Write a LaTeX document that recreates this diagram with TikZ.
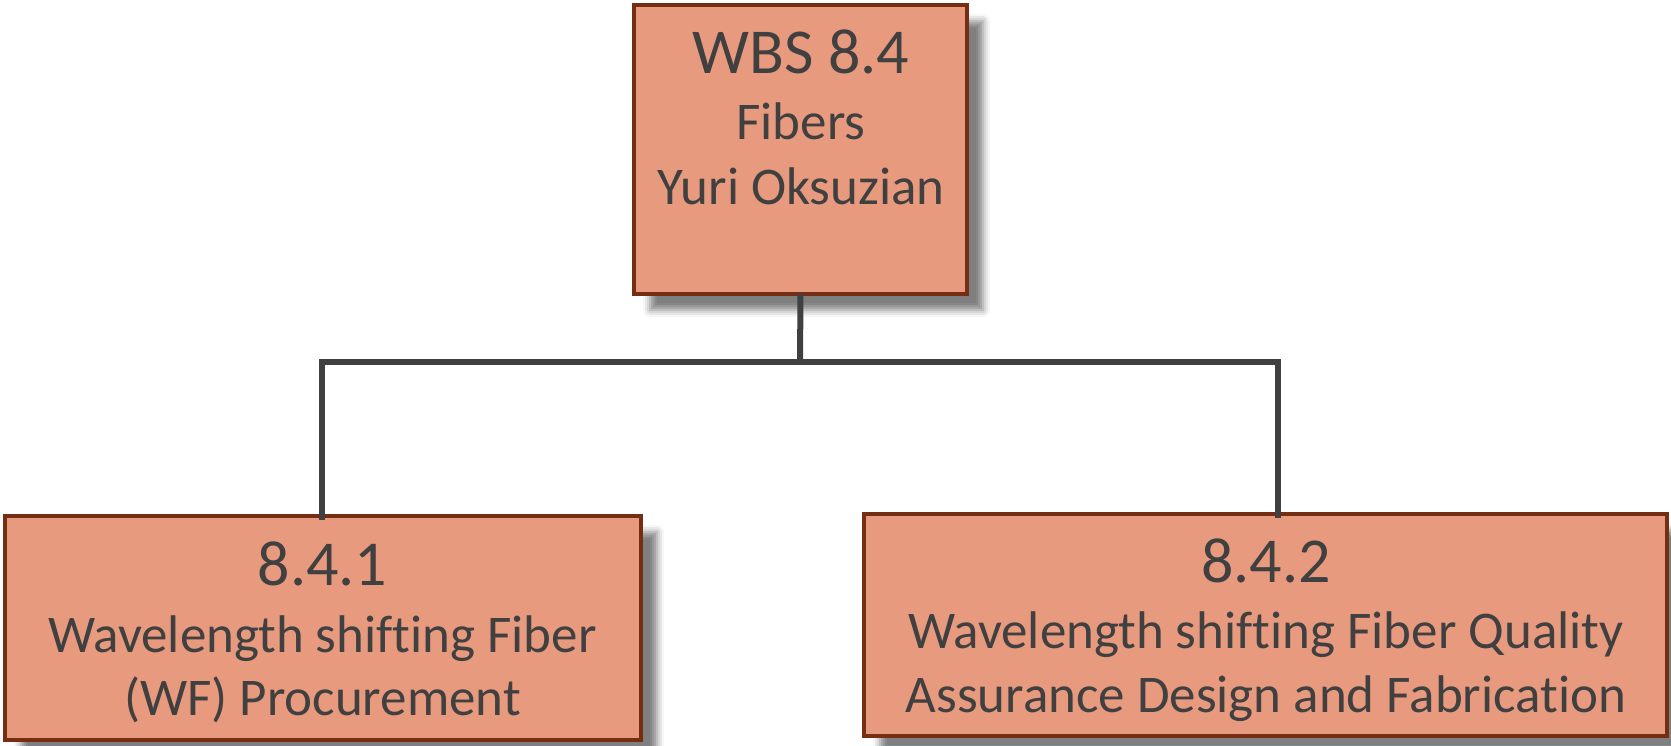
\documentclass[tikz,border=0pt]{standalone}
\usepackage{fontspec}
\setmainfont{Carlito}[Ligatures={NoCommon}]
\usetikzlibrary{shadows.blur}
\definecolor{boxfill}{RGB}{232,154,126}
\definecolor{boxedge}{RGB}{117,45,20}
\definecolor{ink}{RGB}{64,64,64}
\tikzset{
  wbsbox/.style={rectangle, draw=boxedge, line width=4pt, fill=boxfill,
    inner sep=0pt, outer sep=0pt,
    blur shadow={shadow xshift=16pt, shadow yshift=-16pt,
      shadow blur radius=7pt, shadow opacity=50}},
  bigtxt/.style={text=ink, anchor=base, inner sep=0pt,
    font=\fontsize{64}{66}\selectfont},
  smalltxt/.style={text=ink, anchor=base, inner sep=0pt,
    font=\fontsize{53}{55}\selectfont},
  link/.style={draw=ink, line width=6pt, line join=miter}
}
\begin{document}
\begin{tikzpicture}[x=1pt, y=-1pt]
\useasboundingbox (0,0) rectangle (1671,745);

% junction points of the tree connector
\coordinate (j) at (800,362);
\coordinate (jl) at (322,362);
\coordinate (jr) at (1278,362);
\coordinate (dl) at (322,520);
\coordinate (dr) at (1278,518);

% boxes
\node[wbsbox, minimum width=333pt, minimum height=289pt] (top) at (800.5,149.5) {};
\node[wbsbox, minimum width=636pt, minimum height=224pt] (left) at (323,628) {};
\node[wbsbox, minimum width=803pt, minimum height=222pt] (right) at (1265.5,625) {};

\draw[link] (top.south) -- (j);
\draw[link] (dl) -- (jl) -- (jr) -- (dr);

% top box text
\node[bigtxt] (t1) at (801,73) {WBS 8.4};
\node[smalltxt] (t2) at (801,139) {Fibers};
\node[smalltxt] (t3) at (801,204) {Yuri Oksuzian};

% left box text
\node[bigtxt] (l1) at (322.5,585) {8.4.1};
\node[smalltxt] (l2) at (322.5,652) {Wavelength shifting Fiber};
\node[smalltxt] (l3) at (322.5,715) {(WF) Procurement};

% right box text
\node[bigtxt] (r1) at (1266,582) {8.4.2};
\node[smalltxt] (r2) at (1266,648) {Wavelength shifting Fiber Quality};
\node[smalltxt] (r3) at (1266,712) {Assurance Design and Fabrication};
\end{tikzpicture}
\end{document}
